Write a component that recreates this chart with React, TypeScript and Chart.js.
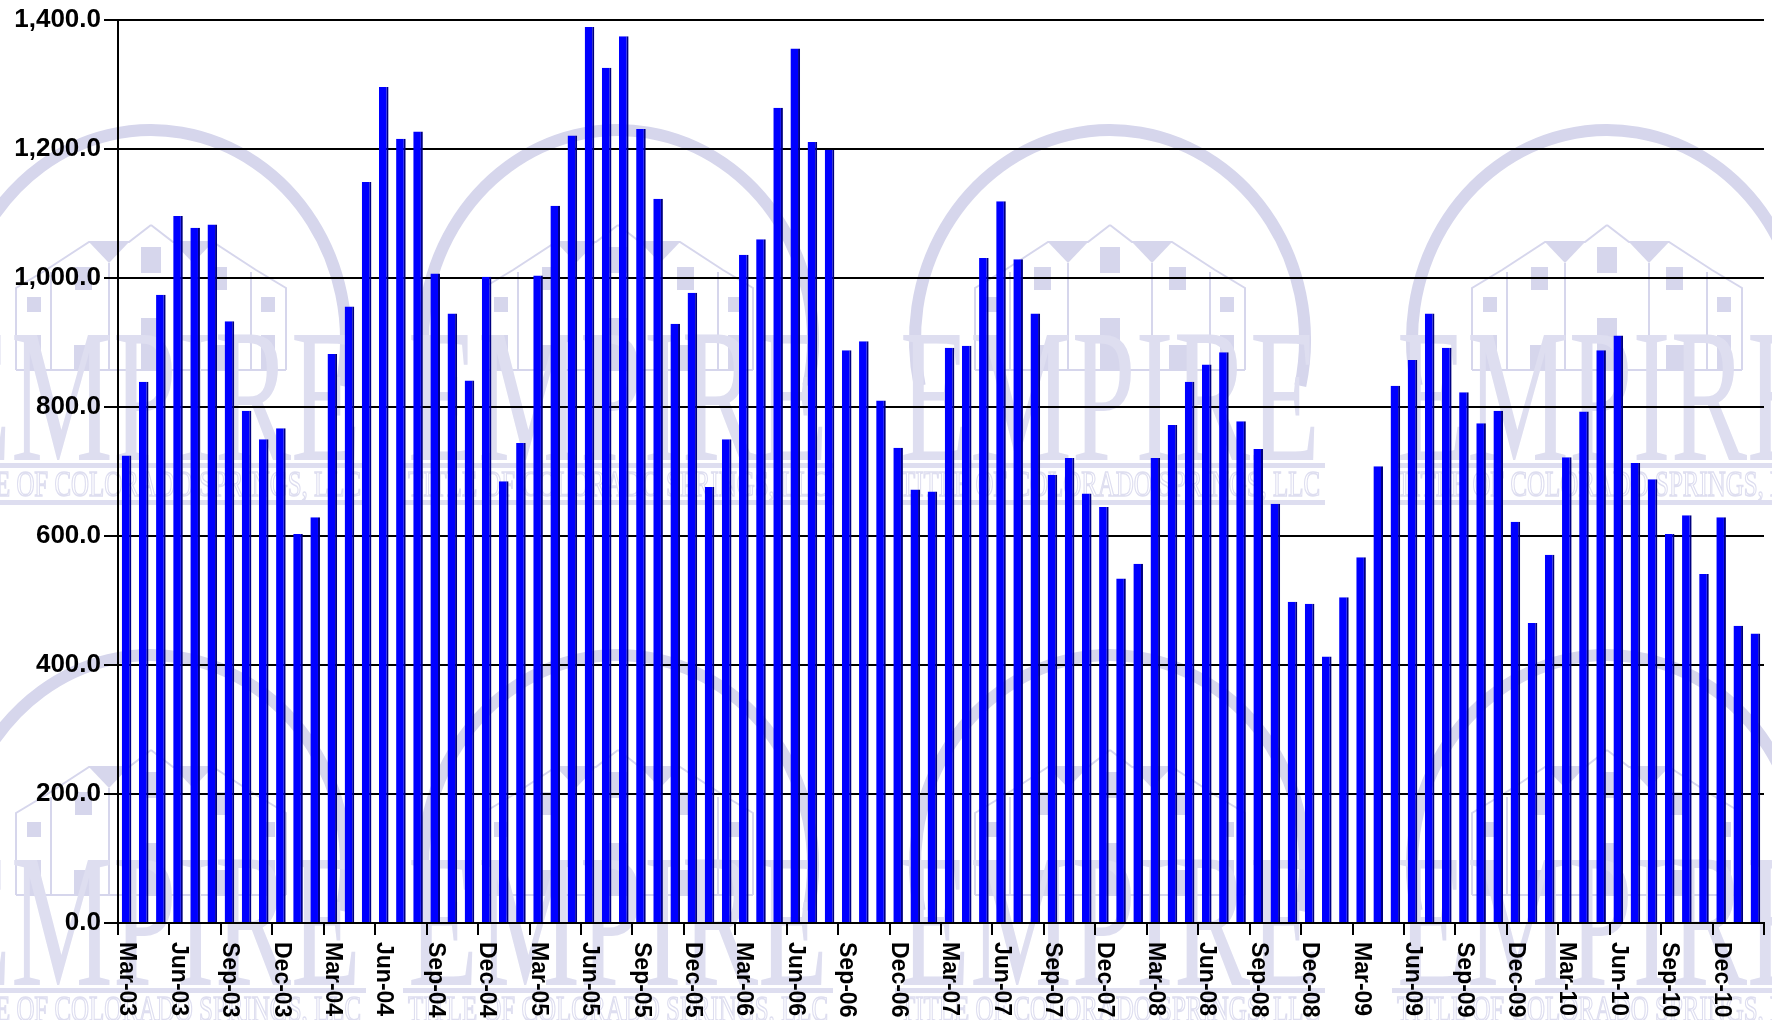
import React, { useEffect, useRef } from 'react';
import { Chart, registerables } from 'chart.js';

Chart.register(...registerables);

// ---- Data (monthly values, Mar-03 .. Feb-11) ----
const months2003 = ['Mar-03', 'Apr-03', 'May-03', 'Jun-03', 'Jul-03', 'Aug-03', 'Sep-03', 'Oct-03', 'Nov-03', 'Dec-03'];
const months2004 = ['Jan-04', 'Feb-04', 'Mar-04', 'Apr-04', 'May-04', 'Jun-04', 'Jul-04', 'Aug-04', 'Sep-04', 'Oct-04', 'Nov-04', 'Dec-04'];
const months2005 = ['Jan-05', 'Feb-05', 'Mar-05', 'Apr-05', 'May-05', 'Jun-05', 'Jul-05', 'Aug-05', 'Sep-05', 'Oct-05', 'Nov-05', 'Dec-05'];
const months2006 = ['Jan-06', 'Feb-06', 'Mar-06', 'Apr-06', 'May-06', 'Jun-06', 'Jul-06', 'Aug-06', 'Sep-06', 'Oct-06', 'Nov-06', 'Dec-06'];
const months2007 = ['Jan-07', 'Feb-07', 'Mar-07', 'Apr-07', 'May-07', 'Jun-07', 'Jul-07', 'Aug-07', 'Sep-07', 'Oct-07', 'Nov-07', 'Dec-07'];
const months2008 = ['Jan-08', 'Feb-08', 'Mar-08', 'Apr-08', 'May-08', 'Jun-08', 'Jul-08', 'Aug-08', 'Sep-08', 'Oct-08', 'Nov-08', 'Dec-08'];
const months2009 = ['Jan-09', 'Feb-09', 'Mar-09', 'Apr-09', 'May-09', 'Jun-09', 'Jul-09', 'Aug-09', 'Sep-09', 'Oct-09', 'Nov-09', 'Dec-09'];
const months2010 = ['Jan-10', 'Feb-10', 'Mar-10', 'Apr-10', 'May-10', 'Jun-10', 'Jul-10', 'Aug-10', 'Sep-10', 'Oct-10', 'Nov-10', 'Dec-10'];
const months2011 = ['Jan-11', 'Feb-11'];

const values2003 = [725, 839, 974, 1096, 1078, 1083, 933, 794, 750, 767];
const values2004 = [603, 629, 882, 956, 1149, 1296, 1216, 1227, 1007, 945, 841, 1002];
const values2005 = [685, 744, 1004, 1112, 1221, 1389, 1326, 1375, 1231, 1123, 929, 977];
const values2006 = [676, 750, 1036, 1060, 1264, 1356, 1211, 1199, 888, 902, 810, 737];
const values2007 = [672, 669, 892, 895, 1031, 1119, 1029, 945, 695, 721, 666, 645];
const values2008 = [534, 557, 721, 772, 839, 866, 885, 778, 735, 650, 498, 495];
const values2009 = [413, 505, 567, 708, 833, 873, 945, 892, 823, 775, 794, 622];
const values2010 = [465, 571, 722, 793, 888, 911, 713, 688, 603, 632, 541, 629];
const values2011 = [461, 449];

const xTickLabels = [
  'Mar-03', 'Jun-03', 'Sep-03', 'Dec-03', 'Mar-04', 'Jun-04', 'Sep-04', 'Dec-04',
  'Mar-05', 'Jun-05', 'Sep-05', 'Dec-05', 'Mar-06', 'Jun-06', 'Sep-06', 'Dec-06',
  'Mar-07', 'Jun-07', 'Sep-07', 'Dec-07', 'Mar-08', 'Jun-08', 'Sep-08', 'Dec-08',
  'Mar-09', 'Jun-09', 'Sep-09', 'Dec-09', 'Mar-10', 'Jun-10', 'Sep-10', 'Dec-10',
];
const yMin = 0;
const yMax = 1400;
const yStep = 200;

const categories = [
  ...months2003, ...months2004, ...months2005, ...months2006, ...months2007,
  ...months2008, ...months2009, ...months2010, ...months2011,
];
const seriesValues = [
  ...values2003, ...values2004, ...values2005, ...values2006, ...values2007,
  ...values2008, ...values2009, ...values2010, ...values2011,
];

const FONT = '"Liberation Sans", Arial, Helvetica, sans-serif';
const SERIF = '"Liberation Serif", "DejaVu Serif", "Times New Roman", serif';
const WM = 'rgb(214,214,236)';
const WM_LIGHT = 'rgb(222,222,240)';

function drawTile(ctx: CanvasRenderingContext2D, cx: number, cy: number) {
  ctx.save();
  // ring
  ctx.strokeStyle = WM;
  ctx.lineWidth = 12;
  ctx.beginPath();
  ctx.ellipse(cx, cy, 195, 210, 0, Math.PI * 0.93, Math.PI * 2.07);
  ctx.stroke();

  // houses
  const P = (dx: number, dy: number): [number, number] => [cx + dx, cy + dy];
  ctx.lineWidth = 2;
  ctx.strokeStyle = WM;
  ctx.fillStyle = WM;
  for (const s of [-1, 1]) {
    const pts: [number, number][] = [
      [-135, 30], [-135, -52], [-105, -70], [-62, -98], [-22, -98], [0, -115],
    ];
    ctx.beginPath();
    pts.forEach(([dx, dy], i) => {
      const [x, y] = P(dx * s, dy);
      if (i === 0) ctx.moveTo(x, y); else ctx.lineTo(x, y);
    });
    ctx.stroke();
    // gable V
    ctx.beginPath();
    ctx.moveTo(...P(-62 * s, -98));
    ctx.lineTo(...P(-22 * s, -98));
    ctx.lineTo(...P(-42 * s, -77));
    ctx.closePath();
    ctx.fill();
    // dividers
    ctx.beginPath();
    ctx.moveTo(...P(-100 * s, -68)); ctx.lineTo(...P(-100 * s, 30));
    ctx.moveTo(...P(-42 * s, -77)); ctx.lineTo(...P(-42 * s, 30));
    ctx.stroke();
    // windows
    const wins = [
      [-76, -73, -59, -50], [-77, 5, -59, 30],
      [-124, -43, -110, -28], [-124, -5, -110, 30],
    ];
    for (const [x1, y1, x2, y2] of wins) {
      const xa = cx + Math.min(x1 * s, x2 * s);
      ctx.fillRect(xa, cy + y1, Math.abs(x2 - x1), y2 - y1);
    }
  }
  ctx.fillRect(cx - 10, cy - 93, 20, 26);
  ctx.fillRect(cx - 10, cy - 22, 20, 52);
  ctx.beginPath();
  ctx.moveTo(cx - 135, cy + 30); ctx.lineTo(cx + 135, cy + 30);
  ctx.stroke();

  // EMPIRE lettering
  ctx.font = `190px ${SERIF}`;
  const w = ctx.measureText('EMPIRE').width;
  ctx.save();
  ctx.translate(cx, cy + 120);
  ctx.scale(420 / w, 1);
  ctx.textAlign = 'center';
  ctx.textBaseline = 'alphabetic';
  ctx.fillStyle = WM_LIGHT;
  ctx.fillText('EMPIRE', 0, 0);
  ctx.restore();

  // bands + subtitle
  ctx.fillStyle = WM_LIGHT;
  ctx.fillRect(cx - 215, cy + 123, 430, 5);
  ctx.fillRect(cx - 215, cy + 160, 430, 5);
  ctx.font = `36px ${SERIF}`;
  const t = 'TITLE OF COLORADO SPRINGS, LLC';
  const tw = ctx.measureText(t).width;
  ctx.save();
  ctx.translate(cx, cy + 156);
  ctx.scale(420 / tw, 1);
  ctx.textAlign = 'center';
  ctx.strokeStyle = WM_LIGHT;
  ctx.lineWidth = 1.5;
  ctx.strokeText(t, 0, 0);
  ctx.restore();
  ctx.restore();
}

const watermarkPlugin = {
  id: 'watermark',
  beforeDraw(chart: any) {
    const ctx: CanvasRenderingContext2D = chart.ctx;
    ctx.save();
    ctx.fillStyle = '#ffffff';
    ctx.fillRect(0, 0, chart.width, chart.height);
    const cols = [151, 618, 1110, 1607];
    const rows = [340, 865];
    for (const cy of rows) for (const cx of cols) drawTile(ctx, cx, cy);
    ctx.restore();
  },
};

const xLabelPlugin = {
  id: 'xLabels',
  afterDraw(chart: any) {
    const ctx: CanvasRenderingContext2D = chart.ctx;
    const xs = chart.scales.x;
    const bottom = chart.chartArea.bottom;
    ctx.save();
    ctx.font = `bold 23px ${FONT}`;
    ctx.fillStyle = '#000';
    ctx.textAlign = 'left';
    ctx.textBaseline = 'middle';
    categories.forEach((c, i) => {
      if (!xTickLabels.includes(c)) return;
      const x = xs.getPixelForValue(i);
      ctx.save();
      ctx.translate(x, bottom + 19);
      ctx.rotate(Math.PI / 2);
      ctx.fillText(c, 0, 0);
      ctx.restore();
    });
    ctx.restore();
  },
};

export default function App() {
  const ref = useRef<HTMLCanvasElement>(null);

  useEffect(() => {
    document.body.style.margin = '0';
    const canvas = ref.current;
    if (!canvas) return;
    const chart = new Chart(canvas, {
      type: 'bar',
      data: {
        labels: categories,
        datasets: [
          {
            data: seriesValues,
            backgroundColor: '#0000ff',
            borderColor: '#000080',
            borderWidth: { top: 0, right: 2, bottom: 0, left: 0 },
            borderSkipped: false,
            barPercentage: 0.56,
            categoryPercentage: 1.0,
          },
        ],
      },
      options: {
        responsive: false,
        animation: false,
        devicePixelRatio: 1,
        layout: { padding: { top: 20, right: 8, left: 0, bottom: 0 } },
        plugins: {
          legend: { display: false },
          tooltip: { enabled: false },
          title: { display: false },
        },
        scales: {
          x: {
            offset: true,
            grid: {
              display: true,
              offset: true,
              drawOnChartArea: false,
              drawTicks: true,
              tickLength: 12,
              lineWidth: 2,
              tickWidth: 2,
              color: (c: any) =>
                c.index === undefined || c.index % 3 === 0 ? '#000' : 'rgba(0,0,0,0)',
              tickColor: (c: any) =>
                c.index === undefined || c.index % 3 === 0 ? '#000' : 'rgba(0,0,0,0)',
            },
            border: { display: true, color: '#000', width: 2 },
            ticks: { display: false },
            afterFit: (scale: any) => {
              scale.height = 97;
            },
          },
          y: {
            min: yMin,
            max: yMax,
            ticks: {
              stepSize: yStep,
              color: '#000',
              padding: 3,
              font: { family: FONT, size: 26, weight: 'bold' },
              callback: (v: any) =>
                Number(v).toLocaleString('en-US', { minimumFractionDigits: 1, maximumFractionDigits: 1 }),
            },
            grid: {
              color: '#000',
              lineWidth: 2,
              drawTicks: true,
              tickLength: 14,
              tickColor: '#000',
            },
            border: { display: true, color: '#000', width: 2 },
            afterFit: (scale: any) => {
              scale.width = 118;
            },
          },
        },
      },
      plugins: [watermarkPlugin, xLabelPlugin],
    } as any);
    return () => chart.destroy();
  }, []);

  return (
    <div style={{ width: 1772, height: 1020, position: 'relative' }}>
      <canvas ref={ref} width={1772} height={1020} style={{ display: 'block', width: 1772, height: 1020 }} />
    </div>
  );
}
